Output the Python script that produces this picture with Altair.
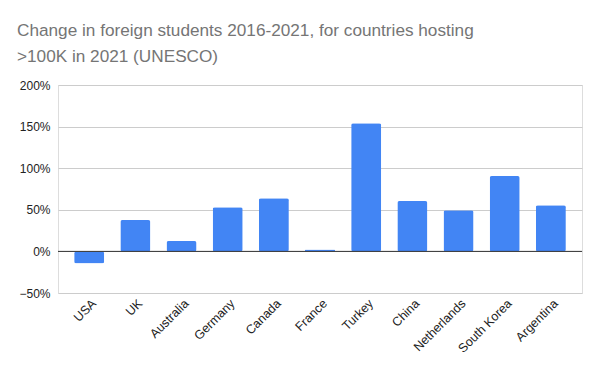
import altair as alt
import pandas as pd

countries = ["USA", "UK", "Australia", "Germany", "Canada", "France", "Turkey",
             "China", "Netherlands", "South Korea", "Argentina"]
change = [-0.144, 0.376, 0.124, 0.532, 0.64, 0.024, 1.54, 0.605, 0.496, 0.905, 0.556]
y_ticks = [-0.5, 0, 0.5, 1.0, 1.5, 2.0]

df = pd.DataFrame({"country": countries, "change": change})

FONT = "Liberation Sans"

bars = alt.Chart(df).mark_bar(color="#4285F4", cornerRadiusTopLeft=2, cornerRadiusTopRight=2,
                              cornerRadiusBottomLeft=2, cornerRadiusBottomRight=2).encode(
    x=alt.X("country:N", sort=countries, title=None,
            scale=alt.Scale(paddingInner=0.35, paddingOuter=0.35),
            axis=alt.Axis(labelAngle=-45, labelAlign="right", labelBaseline="middle",
                          labelPadding=8, labelOffset=5, ticks=False, domain=False,
                          labelFont=FONT, labelFontSize=12.5, labelColor="#222222",
                          grid=False)),
    y=alt.Y("change:Q", title=None,
            scale=alt.Scale(domain=[-0.5, 2.0], nice=False),
            axis=alt.Axis(values=y_ticks, format=".0%", ticks=False, domain=False,
                          labelFont=FONT, labelFontSize=12, labelColor="#222222",
                          labelPadding=8, gridColor="#cccccc", gridWidth=1)),
)

zero = alt.Chart(pd.DataFrame({"z": [0]})).mark_rule(color="#333333", strokeWidth=1).encode(
    y="z:Q"
)

chart = alt.layer(bars, zero).properties(
    width=524,
    height=208,
    title=alt.TitleParams(
        text=["Change in foreign students 2016-2021, for countries hosting",
              ">100K in 2021 (UNESCO)"],
        anchor="start", frame="group", font=FONT, fontSize=17.2, fontWeight="normal",
        color="#757575", lineHeight=26, dx=-41, offset=14),
    autosize=alt.AutoSizeParams(type="none"),
    padding={"left": 50, "top": 77, "right": 10, "bottom": 70},
).configure_view(stroke=None).configure(background="white")

chart.save("out.html", embed_options={"renderer": "svg", "actions": False})
